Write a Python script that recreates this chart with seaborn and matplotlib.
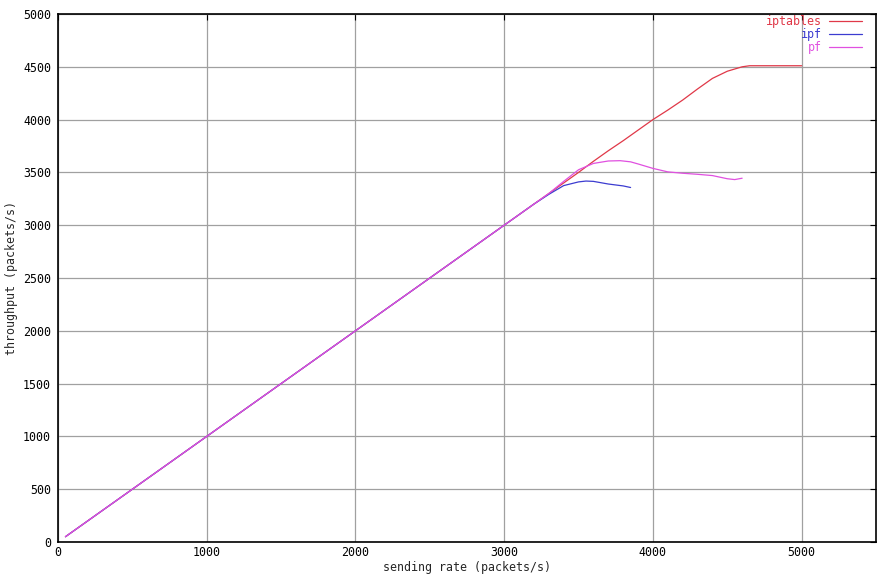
import matplotlib
matplotlib.use("Agg")
import matplotlib.pyplot as plt
import seaborn as sns
import pandas as pd

iptables_x = [50, 500, 1000, 1500, 2000, 2500, 3000, 3200, 3300, 3400, 3500, 3600, 3700, 3800, 3900, 4000, 4100, 4200, 4300, 4400, 4500, 4600, 4650, 4700, 4800, 4900, 5000]
iptables_y = [50, 500, 1000, 1500, 2000, 2500, 3000, 3200, 3300, 3400, 3500, 3605, 3705, 3800, 3900, 4000, 4090, 4185, 4290, 4390, 4458, 4500, 4510, 4510, 4510, 4510, 4510]

ipf_x = [50, 500, 1000, 1500, 2000, 2500, 3000, 3200, 3300, 3400, 3500, 3550, 3600, 3700, 3800, 3850]
ipf_y = [50, 500, 1000, 1500, 2000, 2500, 3000, 3200, 3292, 3375, 3410, 3418, 3415, 3390, 3372, 3357]

pf_x = [50, 500, 1000, 1500, 2000, 2500, 3000, 3200, 3300, 3400, 3500, 3600, 3700, 3780, 3850, 3900, 4000, 4100, 4200, 4300, 4400, 4500, 4550, 4600]
pf_y = [50, 500, 1000, 1500, 2000, 2500, 3000, 3200, 3300, 3415, 3525, 3585, 3608, 3611, 3600, 3580, 3538, 3505, 3492, 3482, 3470, 3440, 3432, 3445]

series_names = ["iptables", "ipf", "pf"]
colors = ["#e03848", "#3c3cd0", "#e050e0"]

x_ticks = [0, 1000, 2000, 3000, 4000, 5000]
y_ticks = [0, 500, 1000, 1500, 2000, 2500, 3000, 3500, 4000, 4500, 5000]
x_label = "sending rate (packets/s)"
y_label = "throughput (packets/s)"

frames = []
for name, xs, ys in [("iptables", iptables_x, iptables_y), ("ipf", ipf_x, ipf_y), ("pf", pf_x, pf_y)]:
    frames.append(pd.DataFrame({"rate": xs, "throughput": ys, "series": name}))
df = pd.concat(frames, ignore_index=True)

sns.set_style("white")
plt.rcParams["font.family"] = ["DejaVu Sans Mono"]
plt.rcParams["font.size"] = 8.4

fig = plt.figure(figsize=(8.96, 5.76), dpi=100)
ax = fig.add_axes([58/896, 34/576, (876-58)/896, (542-14)/576])

sns.lineplot(data=df, x="rate", y="throughput", hue="series", hue_order=series_names,
             palette=colors, linewidth=0.9, ax=ax, sort=False, estimator=None)

ax.set_xlim(0, 5500)
ax.set_ylim(0, 5000)
ax.set_xticks(x_ticks)
ax.set_yticks(y_ticks)
ax.grid(True, color="#a0a0a0", linewidth=0.9)
ax.set_axisbelow(True)
for s in ax.spines.values():
    s.set_visible(True)
    s.set_color("black")
    s.set_linewidth(1.2)
ax.tick_params(direction="in", length=4, width=0.8, top=True, right=True,
               labelsize=8.4, colors="black")
ax.tick_params(axis="x", pad=3)
ax.tick_params(axis="y", pad=5)
ax.set_xlabel(x_label, fontsize=8.4, labelpad=1)
ax.set_ylabel(y_label, fontsize=8.4, labelpad=4)

leg = ax.legend(loc="upper right", frameon=False, markerfirst=False,
                handlelength=2.85, handletextpad=0.6, labelspacing=0.0,
                borderaxespad=0.0, bbox_to_anchor=(1 - 9/818, 1 + 4/528),
                fontsize=8.4, labelcolor="linecolor", title=None)

fig.savefig("out.png", dpi=100, facecolor="white")
